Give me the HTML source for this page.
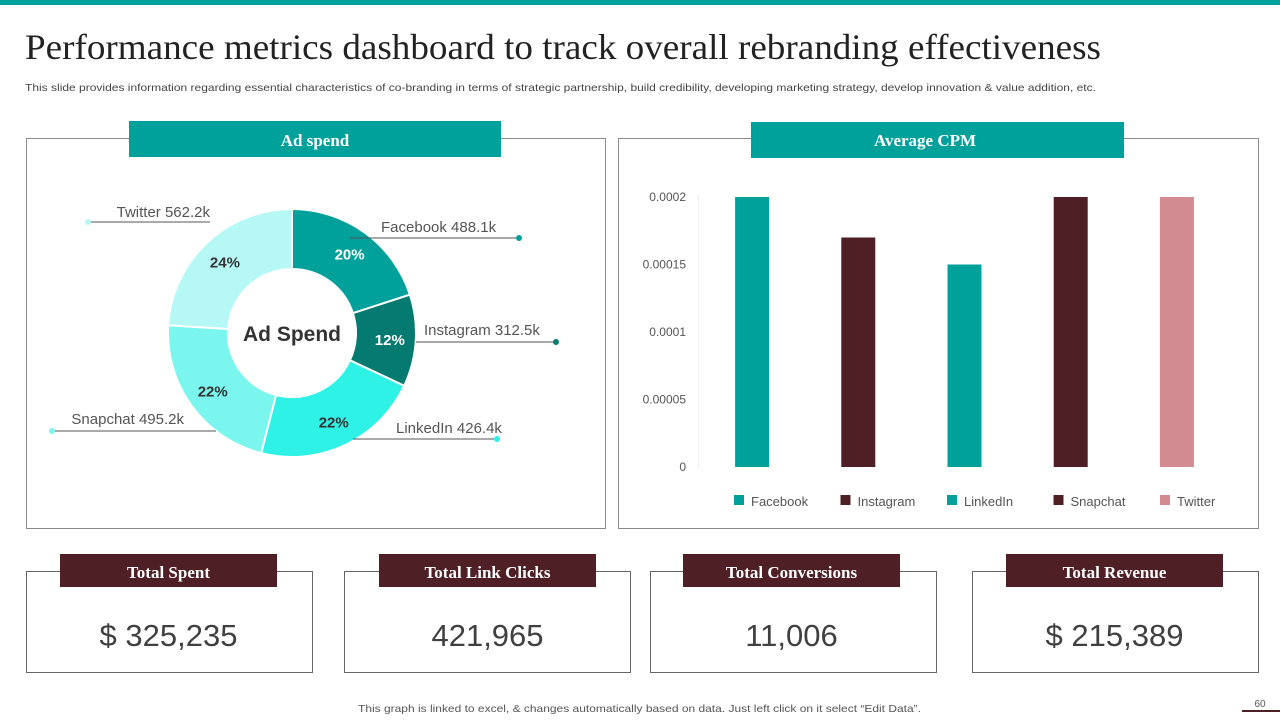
<!DOCTYPE html>
<html><head><meta charset="utf-8"><style>
body{margin:0;width:1280px;height:720px;overflow:hidden;background:#fff;font-family:"Liberation Sans",sans-serif}
svg{position:absolute;left:0;top:0}
</style></head><body>
<svg id="s" width="1280" height="720" viewBox="0 0 1280 720">
<rect x="0" y="0" width="1280" height="5" fill="#00A19A"/>
<text x="25" y="59" font-family="Liberation Serif,serif" font-size="36" textLength="1076" lengthAdjust="spacingAndGlyphs" fill="#222">Performance metrics dashboard to track overall rebranding effectiveness</text>
<text x="25" y="91" font-size="10.5" textLength="1071" lengthAdjust="spacingAndGlyphs" fill="#444">This slide provides information regarding essential characteristics of co-branding in terms of strategic partnership, build credibility, developing marketing strategy, develop innovation &amp; value addition, etc.</text>

<rect x="26.5" y="138.5" width="579" height="390" fill="none" stroke="#8a8a8a"/>
<rect x="129" y="121" width="372" height="36" fill="#00A19A"/>
<text x="315" y="146" text-anchor="middle" font-family="Liberation Serif,serif" font-weight="bold" font-size="17" fill="#fff">Ad spend</text>

<rect x="618.5" y="138.5" width="640" height="390" fill="none" stroke="#8a8a8a"/>
<rect x="751" y="122" width="373" height="36" fill="#00A19A"/>
<text x="925" y="146" text-anchor="middle" font-family="Liberation Serif,serif" font-weight="bold" font-size="17" fill="#fff">Average CPM</text>
<line x1="698.5" y1="195" x2="698.5" y2="468" stroke="#eee"/>
<g id="donut"></g><g id="bars"></g><g id="cards"></g>
<text x="358" y="712" font-size="10.5" textLength="563" lengthAdjust="spacingAndGlyphs" fill="#555">This graph is linked to excel, &amp; changes automatically based on data. Just left click on it select “Edit Data”.</text>
<text x="1260" y="707" text-anchor="middle" font-size="10" fill="#555">60</text>
<line x1="1242" y1="711" x2="1280" y2="711" stroke="#4E2026" stroke-width="2"/>
</svg>
<script>
const donutCats=["Facebook","Instagram","LinkedIn","Snapchat","Twitter"];
const donutPct=[20,12,22,22,24];
const donutVals=["488.1k","312.5k","426.4k","495.2k","562.2k"];
const barCats=["Facebook","Instagram","LinkedIn","Snapchat","Twitter"];
const barVals=[0.0002,0.00017,0.00015,0.0002,0.0002];
const yTicks=[0,0.00005,0.0001,0.00015,0.0002];
const yTickLabels=["0","0.00005","0.0001","0.00015","0.0002"];
const cardTitles=["Total Spent","Total Link Clicks","Total Conversions","Total Revenue"];
const cardValues=["$ 325,235","421,965","11,006","$ 215,389"];

const NS="http://www.w3.org/2000/svg";
function mk(p,t,a){const e=document.createElementNS(NS,t);for(const k in a)e.setAttribute(k,a[k]);p.appendChild(e);return e;}

// donut
const dg=document.getElementById('donut');
const cx=292,cy=333,R=124,r=64;
const dColors=["#00A19A","#047A70","#2EF2E6","#7AF6EE","#B5F8F5"];
const pctColors=["#fff","#fff","#333","#333","#333"];
const total=donutPct.reduce((a,b)=>a+b,0);
const labelPos=[[381,232,"start",350,238,519],[424,335,"start",416,342,556],[396,433,"start",353,439,497],[184,424,"end",216,431,52],[210,217,"end",210,222,88]];
let acc=0;
function pt(rad,a){return [cx+rad*Math.sin(a),cy-rad*Math.cos(a)];}
donutPct.forEach((v,i)=>{
  const a0=acc/total*2*Math.PI; acc+=v; const a1=acc/total*2*Math.PI;
  const lg=(a1-a0)>Math.PI?1:0;
  const [x0,y0]=pt(R,a0),[x1,y1]=pt(R,a1),[x2,y2]=pt(r,a1),[x3,y3]=pt(r,a0);
  const p=mk(dg,'path',{d:`M${x0},${y0}A${R},${R} 0 ${lg} 1 ${x1},${y1}L${x2},${y2}A${r},${r} 0 ${lg} 0 ${x3},${y3}Z`,fill:dColors[i],stroke:"#fff","stroke-width":2});
  
  
  const am=(a0+a1)/2;const [tx,ty]=pt((R+r)/2+4,am);
  const t=mk(dg,'text',{x:tx,y:ty+6,"text-anchor":"middle","font-size":15,"font-weight":"bold",fill:pctColors[i]});
  t.textContent=v+"%";
  
  
  const L=labelPos[i];
  const ln=mk(dg,'line',{x1:L[3],y1:L[4],x2:L[5],y2:L[4],stroke:"#555","stroke-width":1});
  
  
  const d=mk(dg,'circle',{cx:L[5],cy:L[4],r:3,fill:dColors[i]});
  
  
  const lt=mk(dg,'text',{x:L[0],y:L[1],"text-anchor":L[2],"font-size":15,fill:"#555"});
  lt.textContent=donutCats[i]+" "+donutVals[i];
  
  
});
const ct=mk(dg,'text',{x:cx,y:cy+8,"text-anchor":"middle","font-size":21,"font-weight":"bold",fill:"#333"});
ct.textContent="Ad Spend";



// bars
const bg=document.getElementById('bars');
const x0=699,x1=1230,yB=467,yT=197,yMax=0.0002;
const yS=v=>yB-(v/yMax)*(yB-yT);
const band=(x1-x0)/barCats.length;
const bColors=["#00A19A","#4E2026","#00A19A","#4E2026","#D38B92"];
yTicks.forEach((v,i)=>{
  const t=mk(bg,'text',{x:686,y:yS(v)+4,"text-anchor":"end","font-size":12,fill:"#555"});
  t.textContent=yTickLabels[i];
  
  
});
barCats.forEach((c,i)=>{
  const cxb=x0+band*(i+0.5);
  const b=mk(bg,'rect',{x:cxb-17,y:yS(barVals[i]),width:34,height:yB-yS(barVals[i]),fill:bColors[i]});
  
  
  const lx=734+i*106.5;
  const s=mk(bg,'rect',{x:lx,y:495,width:10,height:10,fill:bColors[i]});
  
  
  const t=mk(bg,'text',{x:lx+17,y:506,"font-size":13,fill:"#555"});
  t.textContent=c;
  
  
});

// cards
const cg=document.getElementById('cards');
const boxX=[26,344,650,972],hdrX=[60,379,683,1006];
cardTitles.forEach((t,i)=>{
  const b=mk(cg,'rect',{x:boxX[i]+0.5,y:571.5,width:286,height:101,fill:"none",stroke:"#666"});
  
  
  const h=mk(cg,'rect',{x:hdrX[i],y:554,width:217,height:33,fill:"#4E2026"});
  
  
  const ht=mk(cg,'text',{x:hdrX[i]+108.5,y:578,"text-anchor":"middle","font-family":"Liberation Serif,serif","font-weight":"bold","font-size":17,fill:"#fff"});
  ht.textContent=t;
  
  
  const vt=mk(cg,'text',{x:hdrX[i]+108.5,y:646,"text-anchor":"middle","font-size":31,fill:"#404040"});
  vt.textContent=cardValues[i];
  
  
});
</script>
</body></html>
